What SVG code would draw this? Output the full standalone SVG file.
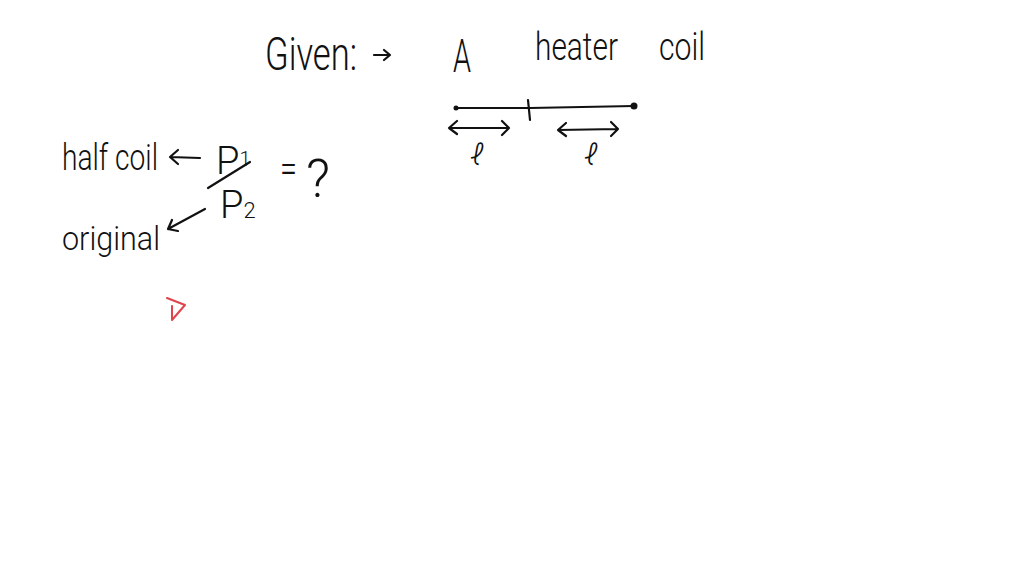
<svg xmlns="http://www.w3.org/2000/svg" width="1024" height="576" viewBox="0 0 1024 576">
<style>
.t{font-family:Roboto,"Liberation Sans",sans-serif;font-weight:300;fill:#111}
.s{fill:none;stroke:#111;stroke-width:2.2;stroke-linecap:round;stroke-linejoin:round}
</style>
<rect width="1024" height="576" fill="#fff"/>
<g id="title">
<text class="t" x="265" y="70" font-size="46" textLength="92" lengthAdjust="spacingAndGlyphs">Given:</text>
<text class="t" x="453" y="72" font-size="46" textLength="18" lengthAdjust="spacingAndGlyphs">A</text>
<text class="t" x="535" y="60" font-size="38" textLength="83" lengthAdjust="spacingAndGlyphs">heater</text>
<text class="t" x="659" y="60" font-size="38" textLength="46" lengthAdjust="spacingAndGlyphs">coil</text>
</g>
<g id="coil">
<path class="s" d="M456 108 L530 108 L634 106"/>
<circle cx="456" cy="108" r="2.5" fill="#111"/>
<circle cx="634" cy="106" r="3.5" fill="#111"/>
<path class="s" d="M528 100 L530 120"/>
<text class="t" x="470" y="165" font-size="30" font-style="italic" font-family="Liberation Serif">ℓ</text>
<text class="t" x="584" y="165" font-size="30" font-style="italic" font-family="Liberation Serif">ℓ</text>
</g>
<g id="left">
<text class="t" x="62" y="170" font-size="36" textLength="96" lengthAdjust="spacingAndGlyphs">half coil</text>
<text class="t" x="62" y="250" font-size="34" textLength="98" lengthAdjust="spacingAndGlyphs">original</text>
<text class="t" x="216" y="174" font-size="38">P<tspan font-size="20" dy="-8">1</tspan></text>
<text class="t" x="220" y="218" font-size="38">P<tspan font-size="22" dy="0">2</tspan></text>
<path class="s" d="M208 188 L250 162"/>
<text class="t" x="280" y="182" font-size="40" textLength="17" lengthAdjust="spacingAndGlyphs">=</text>
<text class="t" x="306" y="197" font-size="54" textLength="24" lengthAdjust="spacingAndGlyphs">?</text>
</g>
<g id="connectors">
<path class="s" d="M374 55 L390 55 M384 50 L390 55 L384 60"/>
<path class="s" d="M449 128 L509 128 M457 121 L449 128 L457 134 M502 121 L509 128 L502 135"/>
<path class="s" d="M558 130 L618 129 M566 123 L558 130 L566 136 M611 122 L618 129 L611 136"/>
<path class="s" d="M170 157 L200 158 M178 150 L170 157 L178 164"/>
<path class="s" d="M205 209 L168 229 M172 220 L168 229 L178 231"/>
</g>
<g id="mark">
<path d="M167 298 L185 305 L172 320 L172 306" fill="none" stroke="#e0444c" stroke-width="2" stroke-linecap="round" stroke-linejoin="round"/>
</g>
</svg>
